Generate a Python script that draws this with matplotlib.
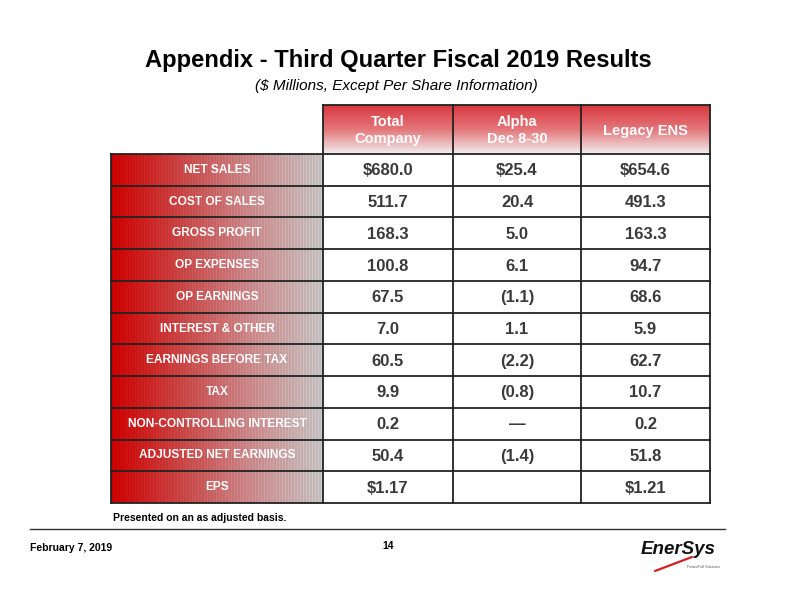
import matplotlib.pyplot as plt
import numpy as np
from matplotlib.colors import LinearSegmentedColormap

# table data
row_labels = ["NET SALES", "COST OF SALES", "GROSS PROFIT", "OP EXPENSES", "OP EARNINGS",
              "INTEREST & OTHER", "EARNINGS BEFORE TAX", "TAX", "NON-CONTROLLING INTEREST",
              "ADJUSTED NET EARNINGS", "EPS"]
col_headers = ["Total\nCompany", "Alpha\nDec 8-30", "Legacy ENS"]
total_company = ["$680.0", "511.7", "168.3", "100.8", "67.5", "7.0", "60.5", "9.9", "0.2", "50.4", "$1.17"]
alpha = ["$25.4", "20.4", "5.0", "6.1", "(1.1)", "1.1", "(2.2)", "(0.8)", "\u2014", "(1.4)", ""]
legacy_ens = ["$654.6", "491.3", "163.3", "94.7", "68.6", "5.9", "62.7", "10.7", "0.2", "51.8", "$1.21"]

W, H = 792, 612
fig = plt.figure(figsize=(W / 100, H / 100), dpi=100)
ax = fig.add_axes([0, 0, 1, 1])
ax.set_xlim(0, W)
ax.set_ylim(H, 0)
ax.axis("off")

FONT = "Liberation Sans"

# layout in pixels
lab_x0, lab_x1 = 111, 323
col_edges = [323, 453, 581, 710]
head_y0, head_y1 = 105, 154
body_y1 = 503
n = len(row_labels)
row_h = (body_y1 - head_y1) / n

# header gradient (red top -> white bottom)
head_cmap = LinearSegmentedColormap.from_list("head", ["#d9393f", "#e3777b", "#f3eeee"])
grad_v = np.linspace(0, 1, 100).reshape(-1, 1)
ax.imshow(grad_v, cmap=head_cmap, extent=[col_edges[0], col_edges[-1], head_y1, head_y0],
          aspect="auto", zorder=1)

# label column gradient (red left -> gray right) with faint vertical stripes
lab_cmap = LinearSegmentedColormap.from_list("lab", ["#cc0000", "#c84646", "#ca8a8c", "#c6c2c2"])
npx = lab_x1 - lab_x0
t = np.linspace(0, 1, npx)
rgb = lab_cmap(t)[:, :3]
stripe = np.where(np.arange(npx) % 3 == 0, 1.06, 0.98)
rgb = np.clip(rgb * stripe[:, None], 0, 1)
ax.imshow(rgb[None, :, :], extent=[lab_x0, lab_x1, body_y1, head_y1],
          aspect="auto", interpolation="nearest", zorder=1)

# grid lines
lw = 1.3
for i in range(n + 1):
    y = head_y1 + i * row_h
    ax.plot([lab_x0, col_edges[-1]], [y, y], color="#222222", lw=lw, zorder=3)
ax.plot([col_edges[0], col_edges[-1]], [head_y0, head_y0], color="#222222", lw=lw, zorder=3)
for x in col_edges:
    ax.plot([x, x], [head_y0, body_y1], color="#222222", lw=lw, zorder=3)
ax.plot([lab_x0, lab_x0], [head_y1, body_y1], color="#222222", lw=lw, zorder=3)

# header text
for j, h in enumerate(col_headers):
    cx = (col_edges[j] + col_edges[j + 1]) / 2
    ax.text(cx, (head_y0 + head_y1) / 2 + 1, h, ha="center", va="center", color="white",
            fontsize=10.5, fontweight="bold", family=FONT, linespacing=1.3, zorder=4)

# body text
cols = [total_company, alpha, legacy_ens]
for i, lab in enumerate(row_labels):
    cy = head_y1 + (i + 0.5) * row_h
    ax.text((lab_x0 + lab_x1) / 2, cy, lab, ha="center", va="center", color="white",
            fontsize=8.6, fontweight="bold", family=FONT, zorder=4)
    for j, col in enumerate(cols):
        cx = (col_edges[j] + col_edges[j + 1]) / 2
        ax.text(cx, cy + 1, col[i], ha="center", va="center", color="#3a3a3a",
                fontsize=12, fontweight="bold", family=FONT, zorder=4)

# titles
ax.text(398, 61, "Appendix - Third Quarter Fiscal 2019 Results", ha="center", va="center",
        fontsize=17.1, fontweight="bold", family=FONT, color="black")
ax.text(396, 86, "($ Millions, Except Per Share Information)", ha="center", va="center",
        fontsize=11, style="italic", family=FONT, color="black")

# footnote and footer
ax.text(113, 518, "Presented on an as adjusted basis.", ha="left", va="center",
        fontsize=7.5, fontweight="bold", family=FONT)
ax.plot([30, 725], [529, 529], color="#333333", lw=1)
ax.text(30, 548, "February 7, 2019", ha="left", va="center",
        fontsize=7.5, fontweight="bold", family=FONT)
ax.text(388, 546, "14", ha="center", va="center",
        fontsize=7.5, fontweight="bold", family=FONT)

# logo
ax.text(678, 549, "EnerSys", ha="center", va="center", fontsize=13.5, fontweight="heavy",
        style="italic", family=FONT, color="#111111")
ax.plot([655, 692], [571, 557], color="#d42020", lw=1.6, solid_capstyle="round")
ax.text(704, 567, "Power/Full Solutions", ha="center", va="center", fontsize=2.6,
        family=FONT, color="#555555")

fig.savefig("out.png", dpi=100)
